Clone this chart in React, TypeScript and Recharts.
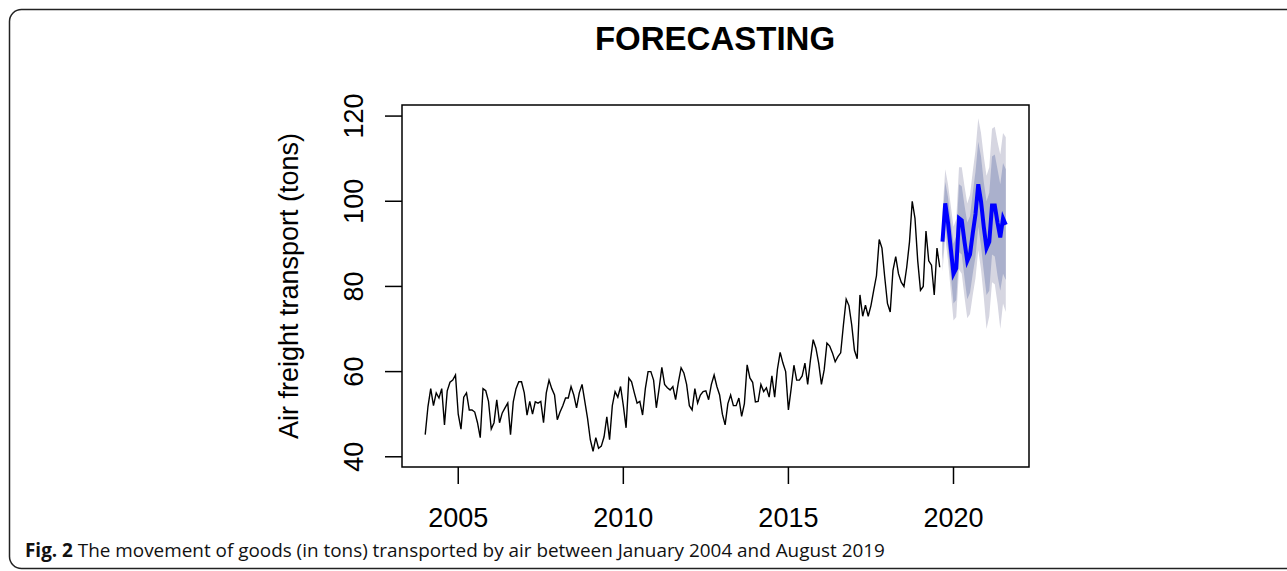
import { ComposedChart, Line, Area, XAxis, YAxis, ReferenceArea } from 'recharts';

// monthly air freight, Jan 2004 .. Aug 2019 (tons)
const START_YEAR = 2004;
const observed = [
  45.2, 51.8, 56, 52, 55, 53.8, 56, 47.5, 55.5, 57.5, 58, 59.2,
  50, 46.5, 54, 55, 51, 51, 50.5, 48, 44.5, 56, 55.5, 53,
  46.5, 48, 53.4, 48, 50.3, 51.5, 52.6, 45.2, 52.9, 56, 57.6, 57.6,
  55, 49.8, 53, 50, 52.9, 52.6, 53, 48, 55, 58, 56, 54.5,
  48.7, 50.5, 52, 53.8, 53.8, 56.5, 54.5, 51.5, 55, 57, 53, 49,
  44, 41.3, 44.5, 42, 42.5, 44.7, 49.4, 44, 52, 55.3, 54, 56.5,
  52, 46.8, 58.5, 57.6, 55, 52.6, 53, 49.8, 56, 60, 60, 58,
  51.5, 56, 61, 57, 56.2, 55.7, 56.5, 53.4, 57.5, 60.9, 59.7, 57,
  52, 51, 56, 52.6, 54.5, 55.3, 55.5, 53.4, 57, 59.2, 56.5, 54.5,
  50, 47.5, 52.5, 54.5, 52, 52, 53.8, 49.5, 52.5, 61.6, 58.5, 57.5,
  52.9, 53, 57, 55.3, 56.2, 54, 59, 54, 60.5, 64.5, 62, 60,
  51, 56, 61.5, 58, 58, 59, 62, 57, 62.7, 67.5, 65.5, 62,
  57, 60.4, 66.7, 66, 64.4, 62.3, 63.5, 64.4, 71, 77, 75.5, 71,
  65, 63, 78, 73, 75.6, 73, 75.5, 79.1, 82.5, 91, 89, 82.2,
  76, 74, 83.8, 87, 83, 81, 80, 84.5, 90.4, 100, 96, 86,
  79.1, 80, 93, 86, 85, 78, 89, 84.5,
];

// forecast Sep 2019 .. Aug 2021
const forecastMean = [
  90.5, 99.5, 95, 89, 83, 84.3, 96, 95.5, 90.5, 86, 87.5, 92.5,
  97, 104, 100, 94, 89, 90.5, 99, 99, 95, 91.5, 96, 94.5,
];
const lo80 = [
  86, 94.5, 89, 82.5, 76, 76.8, 88, 87.5, 82, 77, 78.5, 83,
  87, 94, 89.5, 83.5, 78, 79, 87.5, 87, 82.5, 79, 83, 81.5,
];
const hi80 = [
  95, 104.5, 101, 95.5, 90, 91.8, 104, 103.5, 99, 95, 96.5, 102,
  107, 114, 110.5, 104.5, 100, 102, 110.5, 111, 107.5, 104, 109, 107.5,
];
const lo95 = [
  83.5, 91.5, 86, 79, 72, 72.8, 84, 83, 77.5, 72.5, 73.5, 78,
  82, 88.5, 84, 77.5, 70, 73, 81, 80.5, 76, 70, 76, 74,
];
const hi95 = [
  97.5, 107.5, 104, 99, 94, 95.8, 108, 108, 103.5, 99.5, 101.5, 107,
  112, 119.5, 116, 110.5, 106, 108, 117, 117.5, 114, 111, 116, 115,
];

const yTicks = [40, 60, 80, 100, 120];
const xTicks = [2005, 2010, 2015, 2020];

const data = [
  ...observed.map((v, i) => ({ t: START_YEAR + i / 12, obs: v })),
  ...forecastMean.map((v, j) => ({
    t: START_YEAR + (observed.length + j) / 12,
    fc: v,
    r80: [lo80[j], hi80[j]],
    r95: [lo95[j], hi95[j]],
  })),
];

const X_DOMAIN: [number, number] = [2003.2967, 2022.2867];
const Y_DOMAIN: [number, number] = [37.6, 122.6];
const FONT = '"Liberation Sans", Arial, sans-serif';

function YTick({ x, y, payload }: any) {
  const bx = x - 20;
  return (
    <text x={bx} y={y} transform={`rotate(-90 ${bx} ${y})`} textAnchor="middle" fontSize={27} fontFamily={FONT} fill="#000">
      {payload.value}
    </text>
  );
}

export default function App() {
  return (
    <div style={{ position: 'absolute', left: 0, top: 0, width: 1287, height: 571, background: '#fff' }}>
      <svg width={1287} height={571} style={{ position: 'absolute', left: 0, top: 0 }}>
        <rect x={9.5} y={9.5} width={1290} height={559} rx={12} fill="none" stroke="#222" strokeWidth={1.5} />
        <text x={715} y={50} textAnchor="middle" fontSize={33} fontWeight="bold" fontFamily={FONT} fill="#000">
          FORECASTING
        </text>
        <text transform="translate(298 286) rotate(-90)" textAnchor="middle" fontSize={27} fontFamily={FONT} fill="#000">
          Air freight transport (tons)
        </text>
        <text x={25} y={557} fontSize={18.9} fontFamily='"Open Sans", sans-serif' fill="#111">
          <tspan fontWeight="bold">Fig. 2</tspan> The movement of goods (in tons) transported by air between January 2004 and August 2019
        </text>
      </svg>
      <div style={{ position: 'absolute', left: 0, top: 0 }}>
        <ComposedChart width={1287} height={571} data={data} margin={{ top: 105, left: 252, right: 258, bottom: 44 }}>
          <XAxis
            type="number"
            dataKey="t"
            domain={X_DOMAIN}
            ticks={xTicks}
            allowDataOverflow
            axisLine={false}
            tickSize={17}
            tickMargin={24}
            tickLine={{ stroke: '#000', strokeWidth: 1.5 }}
            tick={{ fontSize: 27, fontFamily: FONT, fill: '#000' }}
            height={60}
          />
          <YAxis
            type="number"
            domain={Y_DOMAIN}
            ticks={yTicks}
            allowDataOverflow
            axisLine={false}
            tickSize={17}
            tickLine={{ stroke: '#000', strokeWidth: 1.5 }}
            tick={<YTick />}
            width={150}
          />
          <Area dataKey="r95" stroke="none" fill="#d6d6e1" fillOpacity={1} type="linear" isAnimationActive={false} />
          <Area dataKey="r80" stroke="none" fill="#aab0cc" fillOpacity={1} type="linear" isAnimationActive={false} />
          <Line dataKey="fc" stroke="#0000ff" strokeWidth={4} dot={false} activeDot={false} type="linear" isAnimationActive={false} />
          <Line dataKey="obs" stroke="#000" strokeWidth={1.4} dot={false} activeDot={false} type="linear" isAnimationActive={false} />
          <ReferenceArea
            x1={X_DOMAIN[0]}
            x2={X_DOMAIN[1]}
            y1={Y_DOMAIN[0]}
            y2={Y_DOMAIN[1]}
            fill="none"
            stroke="#000"
            strokeWidth={1.5}
            ifOverflow="visible"
          />
        </ComposedChart>
      </div>
    </div>
  );
}
